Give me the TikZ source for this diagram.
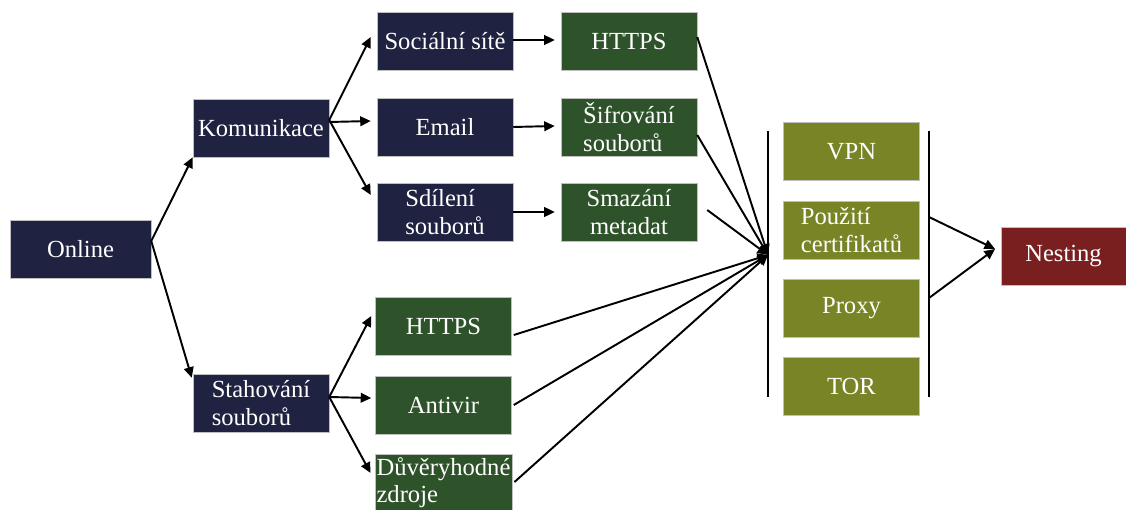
\documentclass[tikz,border=0pt]{standalone}
\usepackage{fontspec}
\setmainfont{Liberation Serif}
\newfontfamily\boxfont{Liberation Serif}
\usetikzlibrary{arrows.meta,calc}

\definecolor{navybox}{HTML}{1F2240}
\definecolor{greenbox}{HTML}{2E5229}
\definecolor{olivebox}{HTML}{798426}
\definecolor{redbox}{HTML}{7A1F20}

\begin{document}
\begin{tikzpicture}[x=0.02cm,y=-0.02cm,
        box/.style={minimum width=2.72cm, minimum height=1.16cm, inner sep=0pt,
            text=white, font=\boxfont\fontsize{14}{15.5}\selectfont, draw=white!75!black, line width=0.3pt},
        navy/.style={box, fill=navybox},
        green/.style={box, fill=greenbox},
        olive/.style={box, fill=olivebox},
        arr/.style={black, line width=1.1pt, -{Triangle[length=6pt,width=5.5pt]}}]
            \useasboundingbox (0,0) rectangle (1126,510);

            % first and second level
            \node[navy, minimum width=2.82cm] (online) at (80.5,249) {Online};
            \node[navy] (komunikace) at (261,128) {Komunikace};
            \node[navy, align=left] (stahovani) at (261,403) {Stahování\\souborů};

            \node[navy] (socialni) at (445,41) {Sociální sítě};
            \node[navy] (email) at (445,127) {Email};
            \node[navy, align=left] (sdileni) at (445,212) {Sdílení\\souborů};

            \node[green] (https1) at (629,41) {HTTPS};
            \node[green, align=left] (sifrovani) at (629,127) {Šifrování\\souborů};
            \node[green, align=center] (smazani) at (629,212) {Smazání\\metadat};

            \node[green] (https2) at (443.5,326) {HTTPS};
            \node[green] (antivir) at (443.5,405) {Antivir};
            \node[green, align=left, inner xsep=1pt] (duveryhodne) at (443.5,483) {Důvěryhodné\\zdroje};

            % protection layer
            \node[olive] (vpn) at (851.5,151.5) {VPN};
            \node[olive, align=left] (certifikaty) at (851.5,230) {Použití\\certifikatů};
            \node[olive] (proxy) at (851.5,308.5) {Proxy};
            \node[olive] (tor) at (851.5,386.5) {TOR};

            \node[box, fill=redbox, minimum width=2.5cm] (nesting) at (1063.5,256.5) {Nesting};

            \coordinate (hub) at (768,255);
            \coordinate (barltop) at (768,131);
            \coordinate (barlbot) at (768,397);
            \coordinate (barrtop) at (929,131);
            \coordinate (barrbot) at (929,397);
            \coordinate (nestin) at (995,249);

            \draw[black, line width=0.8pt] (barltop) -- (barlbot);
            \draw[black, line width=0.8pt] (barrtop) -- (barrbot);

            \draw[arr] ($(online.east)+(0,-8)$) -- (komunikace.south west);
            \draw[arr] ($(online.east)+(0,-8)$) -- ($(stahovani.north west)+(-1,4)$);

            \draw[arr] ($(komunikace.east)+(0,-8)$) -- ($(socialni.west)+(-6,-4)$);
            \draw[arr] ($(komunikace.east)+(0,-6)$) -- ($(email.west)+(-6,-6)$);
            \draw[arr] ($(komunikace.east)+(0,-8)$) -- ($(sdileni.west)+(-6,-17)$);

            \draw[arr] ($(stahovani.east)+(0,-6)$) -- ($(https2.west)+(-4,-10)$);
            \draw[arr] ($(stahovani.east)+(0,-6)$) -- ($(antivir.west)+(-4,-7)$);
            \draw[arr] ($(stahovani.east)+(0,-6)$) -- ($(duveryhodne.west)+(-4,-10)$);

            \draw[arr] ($(socialni.east)+(0,-1)$) -- ($(https1.west)+(-6,-1)$);
            \draw[arr] (email.east) -- ($(sifrovani.west)+(-6,-1)$);
            \draw[arr] (sdileni.east) -- ($(smazani.west)+(-6,0)$);

            \draw[arr] ($(https1.east)+(0,-4)$) -- (hub);
            \draw[arr] ($(sifrovani.east)+(0,8)$) -- (hub);
            \draw[arr] ($(smazani.east)+(10,-2)$) -- (hub);
            \draw[arr] ($(https2.east)+(2,9)$) -- (hub);
            \draw[arr] ($(antivir.east)+(2,0)$) -- (hub);
            \draw[arr] ($(duveryhodne.east)+(2,-1)$) -- (hub);

            \draw[arr] (929,217) -- (nestin);
            \draw[arr] (929,298) -- (nestin);
        \end{tikzpicture}
\end{document}
